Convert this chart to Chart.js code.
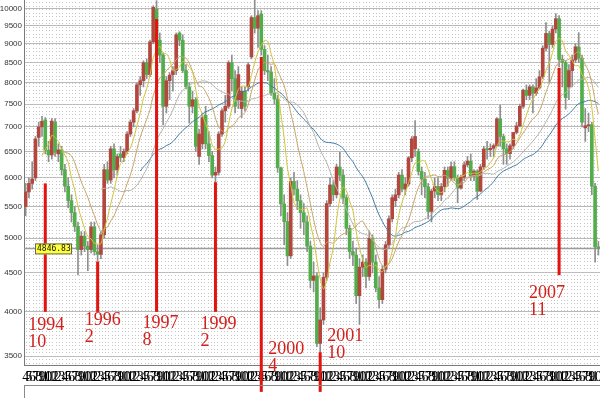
<!DOCTYPE html>
<html>
<head>
<meta charset="utf-8">
<script src="https://cdn.jsdelivr.net/npm/chart.js@4.4.0/dist/chart.umd.min.js"></script>
<style>
  html, body { margin: 0; padding: 0; background: #fff; }
  #wrap { width: 600px; height: 398px; }
</style>
</head>
<body>
<div id="wrap"><canvas id="kChart" width="600" height="398"></canvas></div>
<script>
// monthly candles, 1994/4 .. 2008/11
const periods = [
  "1994-04","1994-05","1994-06","1994-07","1994-08","1994-09","1994-10","1994-11","1994-12",
  "1995-01","1995-02","1995-03","1995-04","1995-05","1995-06","1995-07","1995-08","1995-09","1995-10","1995-11","1995-12",
  "1996-01","1996-02","1996-03","1996-04","1996-05","1996-06","1996-07","1996-08","1996-09","1996-10","1996-11","1996-12",
  "1997-01","1997-02","1997-03","1997-04","1997-05","1997-06","1997-07","1997-08","1997-09","1997-10","1997-11","1997-12",
  "1998-01","1998-02","1998-03","1998-04","1998-05","1998-06","1998-07","1998-08","1998-09","1998-10","1998-11","1998-12",
  "1999-01","1999-02","1999-03","1999-04","1999-05","1999-06","1999-07","1999-08","1999-09","1999-10","1999-11","1999-12",
  "2000-01","2000-02","2000-03","2000-04","2000-05","2000-06","2000-07","2000-08","2000-09","2000-10","2000-11","2000-12",
  "2001-01","2001-02","2001-03","2001-04","2001-05","2001-06","2001-07","2001-08","2001-09","2001-10","2001-11","2001-12",
  "2002-01","2002-02","2002-03","2002-04","2002-05","2002-06","2002-07","2002-08","2002-09","2002-10","2002-11","2002-12",
  "2003-01","2003-02","2003-03","2003-04","2003-05","2003-06","2003-07","2003-08","2003-09","2003-10","2003-11","2003-12",
  "2004-01","2004-02","2004-03","2004-04","2004-05","2004-06","2004-07","2004-08","2004-09","2004-10","2004-11","2004-12",
  "2005-01","2005-02","2005-03","2005-04","2005-05","2005-06","2005-07","2005-08","2005-09","2005-10","2005-11","2005-12",
  "2006-01","2006-02","2006-03","2006-04","2006-05","2006-06","2006-07","2006-08","2006-09","2006-10","2006-11","2006-12",
  "2007-01","2007-02","2007-03","2007-04","2007-05","2007-06","2007-07","2007-08","2007-09","2007-10","2007-11","2007-12",
  "2008-01","2008-02","2008-03","2008-04","2008-05","2008-06","2008-07","2008-08","2008-09","2008-10","2008-11"
];

const opens = [
  5500, 5750, 5900, 6000, 6780, 7000, 7150, 6520, 6430,
  7100, 6450, 6530, 6150, 5850, 5600, 5400, 5180, 4830, 5030, 4880, 4830,
  5173, 4800, 4760, 5050, 6150, 5960, 6550, 6150, 6450, 6380, 6500, 6850,
  7100, 7350, 7950, 8050, 8500, 8200, 9050, 10000, 9100, 8700, 7450, 8050,
  8200, 8300, 9300, 9100, 8300, 7900, 7450, 7600, 6400, 6650, 7250, 6650,
  6418, 6050, 6100, 6850, 7350, 7450, 8500, 8100, 7600, 7400, 7800, 7900,
  8650, 9744, 9435, 9850, 8850, 8300, 8265, 7750, 7616, 6185, 5544, 5256,
  4739, 5936, 5800, 5600, 5400, 5250, 4880, 4400, 4460, 3636, 3903, 4441,
  5551, 5872, 5700, 6200, 6050, 5650, 5150, 4800, 4750, 4200, 4580, 4650,
  4452, 5000, 4650, 4300, 4150, 4550, 4900, 5300, 5600, 5700, 6050, 5800,
  5890, 6375, 6550, 6500, 6117, 5977, 5840, 5420, 5765, 5845, 5705, 5844,
  6139, 5994, 6207, 6006, 5818, 6011, 6241, 6311, 6033, 6119, 5764, 6204,
  6548, 6532, 6561, 6614, 7171, 6800, 6550, 6455, 6611, 6884, 7021, 7450,
  7823, 7700, 7900, 7750, 7875, 8145, 8883, 9287, 8982, 9411, 9711, 8586,
  8506, 7900, 8300, 8572, 8919, 8619, 6980, 7024, 7046, 5850, 4870
];
const highs = [
  5900, 6000, 6300, 6800, 7100, 7230, 7200, 6700, 7180,
  7180, 6650, 6600, 6250, 6000, 5700, 5500, 5250, 5100, 5100, 4950, 5250,
  5250, 4900, 5100, 6250, 6300, 6600, 6650, 6450, 6600, 6550, 6900, 7150,
  7400, 8000, 8150, 8550, 8600, 9100, 10100, 10256, 9300, 8750, 8150, 8250,
  8400, 9300, 9337, 9250, 8450, 8000, 7800, 7650, 6950, 7300, 7450, 6900,
  6500, 6200, 6900, 7400, 7700, 8550, 8700, 8300, 8400, 7900, 7900, 8500,
  9800, 10393, 9950, 9950, 8950, 8700, 8400, 8100, 7700, 6200, 5700, 5400,
  6000, 6100, 5950, 5700, 5550, 5350, 4950, 4650, 4500, 4050, 4500, 5600,
  6000, 5950, 6250, 6484, 6150, 5700, 5200, 4950, 4850, 4700, 4750, 4700,
  5100, 5050, 4750, 4450, 4600, 4950, 5350, 5700, 5800, 6100, 6150, 6000,
  6400, 6800, 7135, 6550, 6200, 6100, 5900, 5800, 6000, 6000, 5900, 6200,
  6200, 6300, 6300, 6050, 6050, 6300, 6400, 6450, 6150, 6150, 6250, 6600,
  6700, 6650, 6650, 7200, 7474, 6850, 6650, 6650, 6850, 7100, 7500, 7850,
  7950, 7950, 7950, 8100, 8300, 8950, 9600, 9350, 9500, 9859, 9800, 8700,
  8550, 8450, 8700, 9000, 9309, 8700, 7400, 7300, 7100, 5900, 4950
];
const lows = [
  5350, 5650, 5800, 5950, 6600, 6800, 6450, 6300, 6350,
  6400, 6300, 6050, 5750, 5480, 5250, 5100, 4474, 4750, 4800, 4530, 4780,
  4750, 4672, 4700, 5000, 5900, 5900, 6000, 6050, 6300, 6300, 6450, 6800,
  7000, 7300, 7700, 7900, 8100, 8150, 9000, 9000, 8500, 7040, 7300, 7600,
  7800, 8200, 8950, 8250, 7850, 7080, 7300, 6500, 6250, 6550, 6550, 6300,
  6000, 5900, 6050, 6800, 7100, 7400, 7800, 7300, 7400, 7200, 7350, 7800,
  8600, 9300, 8900, 8700, 8200, 8050, 7700, 7500, 6100, 5350, 4900, 4600,
  4700, 5700, 5450, 5150, 5050, 4800, 4300, 4250, 3600, 3411, 3850, 4400,
  5500, 5600, 5650, 5950, 5550, 5050, 4700, 4600, 4100, 3850, 4450, 4300,
  4400, 4500, 4250, 4044, 4100, 4500, 4850, 5250, 5500, 5650, 5750, 5700,
  5850, 6300, 6400, 6050, 5700, 5650, 5300, 5250, 5650, 5600, 5600, 5750,
  5850, 5950, 5950, 5565, 5800, 5950, 6200, 5950, 5950, 5620, 5750, 6150,
  6350, 6400, 6400, 6600, 6600, 6250, 6250, 6350, 6550, 6850, 7000, 7400,
  7600, 7600, 7300, 7700, 7850, 8100, 8800, 7987, 8900, 9300, 8400, 7900,
  7384, 7600, 7900, 8500, 8500, 7000, 6700, 6900, 5700, 4650, 4750
];
const closes = [
  5750, 5900, 5980, 6750, 7000, 7120, 6520, 6430, 7124,
  6480, 6530, 6150, 5850, 5600, 5400, 5180, 4830, 5030, 4880, 4830, 5173,
  4800, 4760, 5050, 6150, 5960, 6550, 6150, 6400, 6380, 6500, 6850, 7100,
  7350, 7950, 8050, 8500, 8200, 9050, 10050, 9100, 8700, 7450, 8050, 8187,
  8300, 9250, 9100, 8300, 7900, 7450, 7600, 6600, 6850, 7200, 6650, 6418,
  6050, 6100, 6850, 7350, 7450, 8500, 8100, 7450, 8200, 7800, 7450, 8448,
  9744, 9435, 9800, 8850, 8300, 8265, 7750, 7616, 6185, 5544, 5256, 4739,
  5936, 5800, 5600, 5400, 5250, 4880, 4400, 4460, 3636, 3903, 4441, 5551,
  5872, 5700, 6200, 6050, 5650, 5150, 4800, 4750, 4200, 4580, 4650, 4452,
  5000, 4650, 4300, 4150, 4550, 4900, 5300, 5650, 5700, 6050, 5800, 5890,
  6375, 6750, 6800, 6117, 5977, 5840, 5420, 5765, 5845, 5705, 5844, 6139,
  5994, 6207, 6006, 5818, 6011, 6241, 6311, 6033, 6119, 5764, 6204, 6548,
  6532, 6561, 6614, 7171, 6800, 6550, 6455, 6611, 6884, 7021, 7450, 7823,
  7700, 7900, 7750, 7875, 8145, 8883, 9287, 8982, 9411, 9711, 8586, 8506,
  7650, 8300, 8572, 8919, 8619, 7100, 7024, 7046, 5850, 4870, 4846.83
];

const yTicks = [3500, 4000, 4500, 5000, 5500, 6000, 6500, 7000, 7500, 8000, 8500, 9000, 9500, 10000];
const lastPrice = 4846.83;

// red turning-point markers
const markPeriods = ["1994-10", "1996-02", "1997-08", "1999-02", "2000-04", "2001-10", "2007-11"];
const markYears = ["1994", "1996", "1997", "1999", "2000", "2001", "2007"];
const markMonths = ["10", "2", "8", "2", "4", "10", "11"];
const markTops = [5900, 4660, 9700, 5920, 8650, 3540, 8370];
const markBottoms = [4000, 4000, 4000, 4000, 3140, 3140, 4470];
// text placement relative to marker foot (px)
const markTextDx = [-17, -13, -14, -15, 7, 7, -30];
const markTextDy = [4, -1, 2, 3, -52, -65, 9];

function movingAverage(values, n) {
  return values.map((v, i) => {
    if (i < n - 1) return null;
    let sum = 0;
    for (let k = i - n + 1; k <= i; k++) sum += values[k];
    return sum / n;
  });
}

const upColor = "#b3473e";
const downColor = "#52ad4b";
const candleColors = closes.map((c, i) => (c >= opens[i] ? upColor : downColor));

const decor = {
  id: "decor",
  beforeDatasetsDraw(chart) {
    const { ctx, chartArea: a, scales } = chart;
    ctx.save();
    // dotted background
    ctx.fillStyle = "#c6c6c6";
    for (let x = a.left + 2; x < a.right; x += 3.3) {
      for (let y = a.top + 2; y < a.bottom - 1; y += 3.5) {
        ctx.fillRect(Math.round(x), Math.round(y), 1, 1);
      }
    }
    // last price line
    const py = Math.round(scales.y.getPixelForValue(lastPrice)) + 0.5;
    ctx.strokeStyle = "#9c9c9c";
    ctx.lineWidth = 1.5;
    ctx.beginPath();
    ctx.moveTo(a.left, py);
    ctx.lineTo(a.right, py);
    ctx.stroke();
    ctx.restore();
  },
  afterDatasetsDraw(chart) {
    const { ctx, scales } = chart;
    ctx.save();
    ctx.fillStyle = "#e3140f";
    markPeriods.forEach((p, i) => {
      const x = scales.x.getPixelForValue(periods.indexOf(p));
      const y1 = scales.y.getPixelForValue(markTops[i]);
      const y2 = scales.y.getPixelForValue(markBottoms[i]);
      ctx.fillRect(x - 1.5, y1, 3, y2 - y1);
    });
    ctx.restore();
  },
  afterDraw(chart) {
    const { ctx, chartArea: a, scales } = chart;
    ctx.save();
    // lower panel frame
    ctx.strokeStyle = "#8a8a8a";
    ctx.lineWidth = 1;
    ctx.beginPath();
    ctx.moveTo(a.left, a.bottom + 20.5);
    ctx.lineTo(a.right, a.bottom + 20.5);
    ctx.moveTo(a.left + 0.5, a.bottom + 20);
    ctx.lineTo(a.left + 0.5, chart.height);
    ctx.stroke();

    // marker texts
    ctx.fillStyle = "#d3201c";
    ctx.font = "18px 'Liberation Serif', 'DejaVu Serif', serif";
    ctx.textBaseline = "top";
    ctx.textAlign = "left";
    markPeriods.forEach((p, i) => {
      const x = scales.x.getPixelForValue(periods.indexOf(p)) + markTextDx[i];
      const y = scales.y.getPixelForValue(markBottoms[i]) + markTextDy[i];
      ctx.fillText(markYears[i], x, y);
      ctx.fillText(markMonths[i], x, y + 17);
    });

    // last price tag
    const py = scales.y.getPixelForValue(lastPrice);
    ctx.fillStyle = "#ffff3a";
    ctx.strokeStyle = "#666";
    ctx.fillRect(a.left + 11, py - 5, 37, 11);
    ctx.strokeRect(a.left + 11.5, py - 4.5, 36, 10);
    ctx.fillStyle = "#111";
    ctx.font = "8px 'DejaVu Sans Mono', monospace";
    ctx.textBaseline = "middle";
    ctx.fillText(lastPrice.toFixed(2), a.left + 13, py + 1);
    ctx.restore();
  },
};

const ctx = document.getElementById("kChart").getContext("2d");
new Chart(ctx, {
  type: "bar",
  data: {
    labels: periods,
    datasets: [
      {
        type: "line",
        label: "MA6",
        data: movingAverage(closes, 6),
        borderColor: "#d2c43a",
        borderWidth: 1,
        pointRadius: 0,
        tension: 0.3,
        order: 0,
      },
      {
        type: "line",
        label: "MA12",
        data: movingAverage(closes, 12),
        borderColor: "#c9a468",
        borderWidth: 1,
        pointRadius: 0,
        tension: 0.3,
        order: 1,
      },
      {
        type: "line",
        label: "MA24",
        data: movingAverage(closes, 24),
        borderColor: "#b4b4ac",
        borderWidth: 1,
        pointRadius: 0,
        tension: 0.3,
        order: 2,
      },
      {
        type: "line",
        label: "MA36",
        data: movingAverage(closes, 36),
        borderColor: "#3f7ca6",
        borderWidth: 1,
        pointRadius: 0,
        tension: 0.3,
        order: 3,
      },
      {
        label: "body",
        data: opens.map((o, i) => [o, closes[i]]),
        backgroundColor: candleColors,
        barThickness: 3,
        minBarLength: 1,
        grouped: false,
        order: 5,
      },
      {
        label: "wick",
        data: lows.map((l, i) => [l, highs[i]]),
        backgroundColor: "#8e8e8e",
        barThickness: 1,
        grouped: false,
        order: 6,
      },
    ],
  },
  options: {
    responsive: false,
    animation: false,
    devicePixelRatio: 1,
    layout: { padding: 0 },
    plugins: {
      legend: { display: false },
      tooltip: { enabled: false },
    },
    scales: {
      x: {
        offset: true,
        grid: { display: false, drawTicks: false },
        border: { display: true, color: "#7a7a7a" },
        ticks: {
          autoSkip: false,
          maxRotation: 0,
          minRotation: 0,
          padding: 4,
          color: "#000",
          font: { family: "'Liberation Serif', serif", size: 14 },
          callback: function (value, index) {
            return String(parseInt(periods[index].slice(5), 10));
          },
        },
        afterFit: function (scale) {
          scale.height = 33;
          scale.paddingLeft = 0;
          scale.paddingRight = 0;
        },
      },
      y: {
        type: "logarithmic",
        min: 3406,
        max: 10276,
        afterBuildTicks: function (scale) {
          scale.ticks = yTicks.map((v) => ({ value: v }));
        },
        grid: { color: "#b9b9b9", drawTicks: false },
        border: { color: "#7a7a7a" },
        ticks: {
          padding: 2,
          color: "#333",
          font: { family: "'Liberation Sans', Arial, sans-serif", size: 8 },
          callback: function (value) {
            return String(value);
          },
        },
        afterFit: function (scale) {
          scale.width = 24;
          scale.paddingTop = 0;
          scale.paddingBottom = 0;
        },
      },
    },
  },
  plugins: [decor],
});
</script>
</body>
</html>
